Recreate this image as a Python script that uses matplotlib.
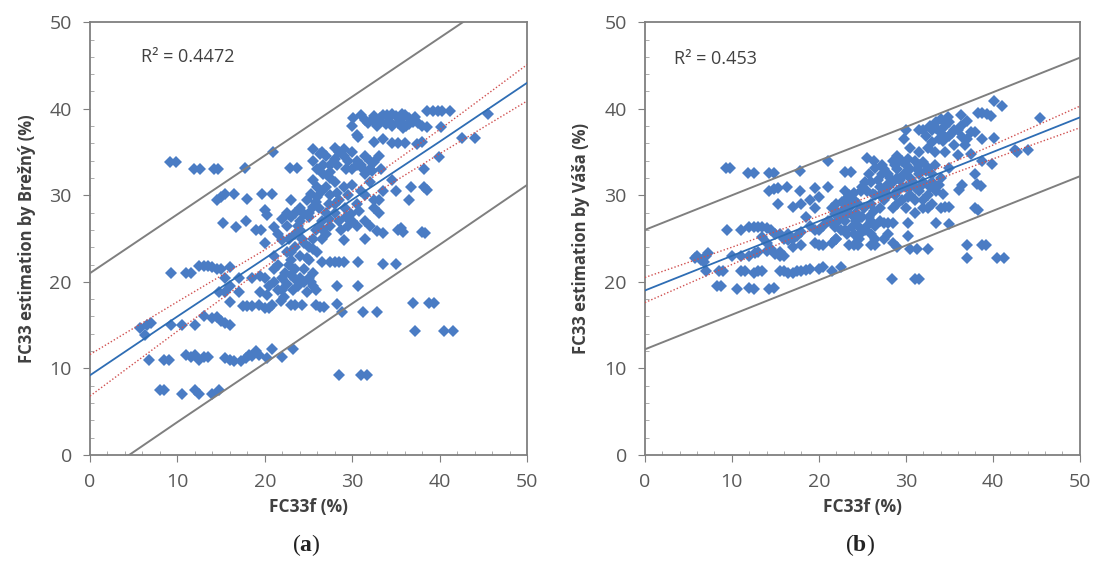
import numpy as np
import matplotlib
matplotlib.use("Agg")
import matplotlib.pyplot as plt
from matplotlib.ticker import MultipleLocator

plt.rcParams['font.family'] = ['Open Sans', 'DejaVu Sans']
plt.rcParams['mathtext.fontset'] = 'custom'
plt.rcParams['mathtext.bf'] = 'Liberation Serif:bold'

# (a) Brezny: measured FC33f vs estimate
pts_a = [
    (30.1, 38.9), (30.0, 38.0), (31.5, 38.7), (32.3, 38.7), (33.0, 38.7), (33.5, 39.3), (34.0, 39.3),
    (34.5, 39.4), (35.0, 39.2), (35.5, 39.0), (36.0, 39.3), (36.5, 38.9), (37.0, 38.5), (33.8, 38.2),
    (34.5, 38.0), (35.2, 38.3), (35.8, 37.8), (36.2, 38.0), (37.5, 38.4), (38.0, 38.0), (38.5, 37.9),
    (38.6, 39.7), (39.2, 39.7), (39.8, 39.7), (40.3, 39.7), (41.2, 39.7), (45.5, 39.4), (40.2, 37.9),
    (31.8, 38.3), (32.8, 38.0), (33.2, 38.9), (34.2, 38.6), (35.5, 38.6), (36.5, 38.2), (37.2, 39.0),
    (31.0, 39.3), (32.5, 39.2), (35.7, 39.4), (30.5, 37.0),
    (30.6, 36.7), (32.5, 36.1), (33.5, 36.5), (34.5, 36.0), (35.2, 36.0), (36.0, 36.0), (37.4, 35.9),
    (38.0, 36.2), (42.5, 36.6), (44.0, 36.6), (39.9, 34.4), (38.2, 33.0),
    (25.5, 35.3), (26.3, 34.8), (27.0, 34.5), (28.0, 35.5), (28.5, 35.0), (29.0, 34.5), (29.5, 34.0),
    (30.0, 35.0), (30.5, 34.0), (31.0, 33.5), (31.5, 34.5), (32.0, 34.0), (32.5, 33.8), (33.0, 34.5),
    (31.2, 33.0), (32.0, 33.0), (33.3, 33.0), (28.3, 33.5), (29.3, 33.0), (26.7, 33.5), (27.5, 32.7),
    (25.5, 34.0), (26.0, 33.0), (27.5, 33.5), (28.0, 34.2), (29.0, 35.3), (30.0, 33.0), (30.5, 33.5),
    (31.5, 32.5), (26.5, 35.0), (32.2, 32.8),
    (22.9, 33.1), (23.7, 33.1), (20.9, 35.0), (17.7, 33.2), (11.9, 33.0), (12.6, 33.0), (14.2, 33.0),
    (14.7, 33.0), (9.2, 33.9), (9.8, 33.9),
    (14.5, 29.5), (15.0, 29.8), (15.5, 30.2), (16.5, 30.2), (18.0, 29.6), (19.7, 30.2), (20.8, 30.2),
    (20.0, 28.3), (20.2, 27.7), (22.5, 28.0), (23.0, 29.5), (24.0, 28.5), (24.5, 27.8), (25.0, 28.0),
    (25.5, 31.8), (26.0, 31.0), (26.5, 30.5), (27.0, 31.0), (27.5, 30.0), (28.0, 31.5), (28.5, 29.5),
    (29.0, 31.0), (29.5, 30.0), (30.0, 31.2), (30.5, 29.0), (31.0, 30.5), (31.5, 30.0), (32.0, 31.5),
    (32.5, 29.5), (33.0, 29.5), (33.5, 30.5), (34.5, 31.8), (35.0, 30.5), (36.5, 29.5), (36.7, 31.0),
    (38.2, 31.0), (38.6, 30.6), (32.5, 28.5), (33.0, 28.0), (26.7, 32.5), (27.5, 32.0),
    (25.3, 30.2), (25.8, 29.2), (26.2, 28.5), (27.3, 29.0), (28.3, 30.3), (29.2, 28.5), (29.8, 27.8),
    (28.0, 29.0), (26.0, 29.8), (27.0, 28.0), (30.8, 28.2), (24.8, 29.5), (25.5, 28.7),
    (15.2, 26.8), (16.7, 26.3), (17.8, 27.0), (19.0, 26.0), (19.6, 26.0), (21.0, 26.3), (22.0, 27.3),
    (22.5, 26.5), (23.0, 27.5), (23.5, 28.0), (24.0, 27.0), (21.5, 25.5), (22.0, 24.8), (22.8, 25.0),
    (23.5, 25.5), (24.0, 26.0), (25.0, 27.5), (25.8, 26.0), (26.5, 27.0), (27.0, 25.5), (27.5, 26.5),
    (28.0, 28.0), (28.7, 26.0), (29.5, 26.5), (30.0, 27.0), (30.5, 26.5), (31.5, 27.0), (32.0, 26.5),
    (32.8, 25.9), (33.5, 25.7), (35.2, 26.0), (35.6, 26.2), (35.8, 25.8), (38.0, 25.8), (38.3, 25.7),
    (31.5, 25.0), (29.0, 24.8), (20.0, 24.5), (26.5, 25.0),
    (23.8, 26.5), (24.3, 25.0), (25.0, 24.0), (25.5, 25.0), (26.3, 26.3), (27.3, 27.3), (28.5, 27.0),
    (29.3, 27.5), (26.7, 26.0),
    (21.0, 23.0), (21.5, 22.0), (23.0, 23.5), (23.5, 24.0), (24.0, 23.0), (24.5, 24.5), (25.0, 22.5),
    (25.5, 23.8), (22.8, 22.0), (23.5, 21.5), (26.0, 23.5), (26.5, 22.3), (27.5, 22.3), (28.0, 22.3),
    (28.5, 22.3), (29.0, 22.3), (30.7, 22.3), (33.5, 22.1), (35.0, 22.1), (25.5, 21.0), (21.0, 21.5),
    (22.5, 23.5), (23.0, 22.5), (24.5, 21.5), (24.8, 22.8), (22.3, 21.0),
    (12.5, 21.8), (13.0, 21.8), (13.5, 21.8), (14.0, 21.7), (14.5, 21.5), (15.0, 21.5), (15.5, 20.5),
    (16.0, 21.7), (11.0, 21.0), (11.5, 21.0), (9.3, 21.0), (17.0, 20.5), (18.5, 20.5), (19.5, 20.7),
    (20.0, 20.5), (21.5, 19.0), (22.0, 19.0), (23.0, 20.8), (23.5, 20.3), (24.0, 20.5), (24.5, 20.0),
    (25.0, 20.5), (25.5, 19.5), (25.8, 19.0), (28.2, 19.5), (30.7, 19.5), (19.5, 18.8), (16.0, 19.5),
    (14.8, 18.8), (15.5, 18.8), (17.0, 18.8),
    (23.8, 19.5), (24.8, 18.8), (25.3, 20.0), (20.5, 19.5), (21.0, 20.0), (22.0, 20.5), (22.5, 19.8),
    (23.2, 19.0), (21.8, 17.8), (22.2, 18.2), (20.2, 18.5),
    (16.0, 17.7), (17.5, 17.2), (18.0, 17.2), (18.5, 17.2), (19.3, 17.3), (20.0, 17.0), (20.5, 17.0),
    (20.8, 17.3), (23.0, 17.3), (23.5, 17.3), (24.3, 17.3), (25.8, 17.3), (26.3, 17.1), (26.8, 17.1),
    (28.3, 17.4), (28.8, 16.5), (31.2, 16.5), (32.8, 16.5), (37.0, 17.5), (38.8, 17.5), (39.3, 17.5),
    (13.0, 16.0), (14.0, 15.8), (14.5, 15.9), (15.0, 15.5), (15.5, 15.2), (16.0, 15.0), (12.0, 15.0),
    (10.5, 15.0), (9.3, 15.0), (5.7, 14.7), (6.5, 15.0), (7.0, 15.3), (6.3, 13.8),
    (37.2, 14.3), (40.5, 14.3), (41.5, 14.3),
    (6.8, 11.0), (8.5, 11.0), (9.0, 11.0), (11.0, 11.5), (11.5, 11.3), (12.0, 11.5), (12.5, 11.0),
    (13.0, 11.3), (13.5, 11.3), (15.5, 11.2), (16.0, 11.0), (16.5, 10.8), (17.3, 10.8), (17.8, 11.2),
    (18.2, 11.5), (18.5, 11.4), (19.0, 12.0), (19.3, 11.5), (20.3, 11.2), (20.8, 12.2), (22.0, 11.3),
    (23.2, 12.2),
    (8.0, 7.5), (8.5, 7.5), (10.5, 7.0), (12.0, 7.5), (12.5, 7.0), (14.0, 7.0), (14.8, 7.5),
    (28.5, 9.2), (31.0, 9.2), (31.7, 9.2),
]

# (b) Vasa
pts_b = [
    (40.1, 40.9), (41.1, 40.3), (45.4, 38.9), (38.3, 39.5), (38.8, 39.5), (39.3, 39.4), (39.8, 39.2),
    (36.3, 39.3), (33.5, 38.5), (34.0, 38.8), (34.5, 38.0), (35.0, 38.5), (35.5, 37.5), (34.0, 37.2),
    (33.0, 37.5), (32.0, 37.5), (31.5, 37.5), (33.8, 36.5), (35.0, 36.8), (36.0, 37.5), (36.5, 36.7),
    (37.0, 36.5), (35.5, 35.8), (37.5, 37.3), (38.0, 37.3), (38.8, 36.5), (40.1, 36.6), (30.0, 37.6),
    (29.8, 36.5), (30.5, 35.5), (31.5, 35.0), (32.5, 35.5), (33.3, 35.0), (34.5, 35.0), (36.0, 34.7),
    (37.5, 34.8), (38.8, 34.0), (39.9, 33.6), (42.5, 35.2), (42.8, 35.0), (44.0, 35.2),
    (32.8, 38.0), (33.5, 37.8), (34.3, 36.3), (35.3, 37.2), (36.3, 38.0), (37.0, 38.6), (34.8, 39.0),
    (32.3, 36.8), (33.0, 36.2), (36.8, 35.8),
    (25.5, 34.3), (26.3, 34.0), (27.5, 33.0), (28.5, 34.0), (29.0, 34.5), (29.5, 34.0), (30.0, 33.5),
    (30.5, 33.0), (31.0, 34.0), (31.5, 33.5), (32.0, 33.8), (32.5, 33.2), (33.0, 32.5), (28.0, 32.5),
    (29.0, 33.0), (30.5, 32.0), (31.5, 32.5), (32.0, 31.5), (33.0, 31.5), (34.0, 32.0), (35.0, 33.2),
    (25.0, 31.0), (25.5, 30.5), (26.0, 31.5), (26.5, 30.0), (27.0, 31.0), (27.5, 30.5), (28.0, 30.0),
    (28.5, 31.5), (29.0, 30.5), (29.5, 29.5), (30.0, 31.0), (30.5, 30.0), (31.0, 29.5), (31.5, 30.5),
    (32.0, 29.5), (32.5, 30.0), (33.0, 29.0), (33.5, 30.5), (26.0, 29.0), (27.0, 28.5), (27.5, 29.5),
    (28.5, 28.5), (29.0, 29.0), (30.0, 28.5), (31.0, 28.0), (32.0, 28.5), (32.5, 28.5), (34.0, 28.5),
    (34.5, 28.7), (35.0, 28.7), (38.0, 28.5), (38.3, 28.3), (36.1, 30.6), (36.5, 31.2), (38.2, 31.3),
    (38.6, 31.1), (38.0, 32.5),
    (24.8, 30.5), (25.3, 31.5), (25.8, 32.5), (26.2, 30.2), (26.8, 31.8), (27.2, 32.5), (27.8, 31.2),
    (28.2, 32.0), (28.8, 30.0), (29.3, 31.8), (29.8, 32.5), (30.2, 29.8), (30.8, 31.5), (31.2, 30.8),
    (31.8, 31.2), (32.3, 32.8), (32.8, 31.0), (33.3, 33.5), (33.8, 31.2), (34.3, 30.2), (27.3, 33.5),
    (28.8, 33.5), (30.2, 34.2), (31.3, 33.0), (26.5, 33.2), (29.5, 31.0), (30.5, 31.0), (28.0, 31.0),
    (27.0, 30.0), (29.0, 32.0),
    (21.5, 28.5), (22.0, 29.0), (22.5, 28.0), (23.0, 29.5), (23.5, 30.0), (24.0, 29.5), (24.5, 29.0),
    (22.5, 27.5), (23.0, 27.0), (23.5, 28.5), (24.0, 27.5), (24.5, 26.5), (25.0, 27.5), (25.5, 26.5),
    (26.0, 27.0), (23.0, 26.0), (24.0, 25.5), (25.0, 25.8), (26.0, 25.5), (26.5, 26.5), (27.0, 27.0),
    (23.5, 24.3), (24.0, 24.3), (24.5, 24.3), (26.0, 24.3), (26.5, 24.3), (27.5, 26.8), (28.0, 26.8),
    (28.5, 26.8), (28.0, 25.5), (29.0, 24.0), (28.5, 24.5), (30.2, 25.3), (30.3, 26.8), (30.5, 23.8),
    (31.3, 23.8), (32.5, 23.8), (33.5, 26.8), (35.0, 26.7), (21.0, 31.0), (21.3, 27.0), (22.0, 25.0),
    (23.0, 32.7), (23.7, 32.7), (21.1, 34.0),
    (22.0, 28.2), (22.7, 29.2), (23.3, 28.0), (23.8, 29.0), (24.3, 28.0), (24.8, 27.5), (22.2, 27.0),
    (21.8, 27.8), (25.2, 28.5), (23.0, 30.5), (24.0, 30.3), (19.0, 29.5), (18.5, 27.5),
    (22.5, 26.0), (23.2, 25.5), (23.8, 26.3), (24.3, 27.0), (25.3, 26.0), (25.8, 27.5), (26.3, 28.2),
    (23.0, 28.5), (24.6, 25.0), (21.8, 26.3), (26.5, 25.0), (27.5, 25.0),
    (14.3, 30.5), (14.8, 30.7), (15.3, 30.8), (16.3, 31.0), (17.8, 30.5), (19.6, 30.8), (20.0, 29.8),
    (19.5, 28.5), (18.0, 29.0), (17.0, 28.7), (15.3, 29.0), (11.8, 32.6), (12.5, 32.6), (14.3, 32.6),
    (14.8, 32.6), (17.8, 32.8), (9.3, 33.2), (9.8, 33.2),
    (9.4, 26.0), (11.0, 26.0), (12.0, 26.3), (12.5, 26.3), (13.0, 26.3), (13.5, 26.3), (14.0, 26.2),
    (14.5, 26.0), (15.0, 25.5), (15.5, 25.5), (16.0, 25.0), (16.5, 25.5), (17.0, 25.0), (17.5, 25.3),
    (18.0, 25.8), (19.0, 26.5), (19.5, 26.0), (20.0, 26.0), (20.5, 26.5), (21.0, 27.0), (13.5, 25.2),
    (14.0, 24.5), (14.5, 23.8), (15.5, 23.5), (16.0, 23.0), (16.5, 24.8), (17.0, 24.0), (18.0, 24.2),
    (19.5, 24.5), (20.0, 24.3), (20.5, 24.3), (21.5, 24.5), (22.0, 25.0), (10.0, 23.0), (11.0, 23.0),
    (12.0, 23.0), (12.7, 23.3), (13.0, 23.5), (14.0, 23.6), (15.0, 23.2), (15.5, 23.0), (6.0, 23.0),
    (6.5, 22.5), (7.0, 23.0), (5.8, 22.8), (6.8, 22.3), (7.2, 23.3), (7.0, 21.2), (8.5, 21.2),
    (9.0, 21.2), (11.0, 21.3), (11.5, 21.3), (12.5, 21.0), (13.0, 21.3), (13.5, 21.3), (15.5, 21.3),
    (16.0, 21.2), (16.5, 21.0), (17.0, 21.0), (17.5, 21.2), (18.0, 21.3), (18.5, 21.4), (19.0, 21.5),
    (20.0, 21.5), (20.5, 21.7), (21.5, 21.3), (22.5, 21.7), (8.3, 19.5), (8.7, 19.5), (10.6, 19.2),
    (12.0, 19.3), (12.5, 19.2), (14.3, 19.2), (14.8, 19.3), (28.4, 20.3), (31.0, 20.3), (31.5, 20.3),
    (37.0, 24.3), (37.0, 22.7), (38.8, 24.3), (39.2, 24.3), (40.5, 22.7), (41.3, 22.7),
]

# fitted line, 95% confidence and prediction bands read at these x positions
band_x = [0, 10, 20, 30, 40, 50]
fit_a = [9.2, 16.0, 22.7, 29.5, 36.2, 43.0]
conf_up_a = [11.6, 17.7, 23.7, 30.4, 37.6, 45.1]
conf_lo_a = [6.8, 14.3, 21.7, 28.6, 34.8, 40.9]
pred_up_a = [21.0, 27.8, 34.6, 41.4, 48.2, 55.0]
pred_lo_a = [-3.1, 3.8, 10.6, 17.5, 24.3, 31.2]

fit_b = [19.0, 23.0, 27.0, 31.0, 35.0, 39.0]
conf_up_b = [20.5, 24.0, 27.6, 31.5, 35.8, 40.3]
conf_lo_b = [17.6, 22.0, 26.4, 30.5, 34.2, 37.8]
pred_up_b = [26.0, 30.0, 34.0, 37.9, 41.9, 45.9]
pred_lo_b = [12.2, 16.2, 20.2, 24.2, 28.2, 32.2]

r2_a = "R² = 0.4472"
r2_b = "R² = 0.453"

fig = plt.figure(figsize=(10.93, 5.84), dpi=100)
ax_a = fig.add_axes([0.0823, 0.221, 0.400, 0.741])
ax_b = fig.add_axes([0.590, 0.221, 0.398, 0.741])

panels = [
    (ax_a, pts_a, fit_a, conf_up_a, conf_lo_a, pred_up_a, pred_lo_a, r2_a, (5.8, 46.0),
     "FC33 estimation by Brežný (%)", "a"),
    (ax_b, pts_b, fit_b, conf_up_b, conf_lo_b, pred_up_b, pred_lo_b, r2_b, (3.4, 45.7),
     "FC33 estimation by Váša (%)", "b"),
]

for ax, pts, fit, cu, cl, pu, pl, r2, r2pos, ylab, tag in panels:
    xs = [p[0] for p in pts]
    ys = [p[1] for p in pts]
    ax.plot(xs, ys, 'D', color='#4a7cc4', markersize=6.3, markeredgewidth=0, zorder=3)
    ax.plot(band_x, pu, color='#7f7f7f', lw=1.4, zorder=4)
    ax.plot(band_x, pl, color='#7f7f7f', lw=1.4, zorder=4)
    ax.plot(band_x, fit, color='#2e6db4', lw=1.3, zorder=5)
    ax.plot(band_x, cu, color='#d05050', lw=1.0, ls=(0, (1, 1.5)), zorder=5)
    ax.plot(band_x, cl, color='#d05050', lw=1.0, ls=(0, (1, 1.5)), zorder=5)

    ax.set_xlim(0, 50)
    ax.set_ylim(0, 50)
    ax.xaxis.set_major_locator(MultipleLocator(10))
    ax.yaxis.set_major_locator(MultipleLocator(10))
    ax.xaxis.set_minor_locator(MultipleLocator(2))
    ax.yaxis.set_minor_locator(MultipleLocator(2))
    ax.tick_params(which='major', direction='out', length=5, color='#7f7f7f',
                   labelsize=14, labelcolor='#595959', pad=8)
    ax.tick_params(which='minor', direction='in', length=3, color='#9f9f9f')
    for s in ax.spines.values():
        s.set_color('#7f7f7f')
        s.set_linewidth(1.3)

    ax.set_xlabel("FC33f (%)", fontsize=12.5, fontweight='bold', color='#404040', labelpad=5)
    ax.set_ylabel(ylab, fontsize=12, fontweight='bold', color='#404040', labelpad=10)
    ax.text(r2pos[0], r2pos[1], r2, fontsize=13, color='#404040', va='center')
    fig.text(ax.get_position().x0 + ax.get_position().width / 2 - 0.002, 0.067,
             r'($\mathbf{' + tag + '}$)', family='Liberation Serif', fontsize=17,
             ha='center', va='center', color='#222222')

fig.savefig("out.png", dpi=100)
